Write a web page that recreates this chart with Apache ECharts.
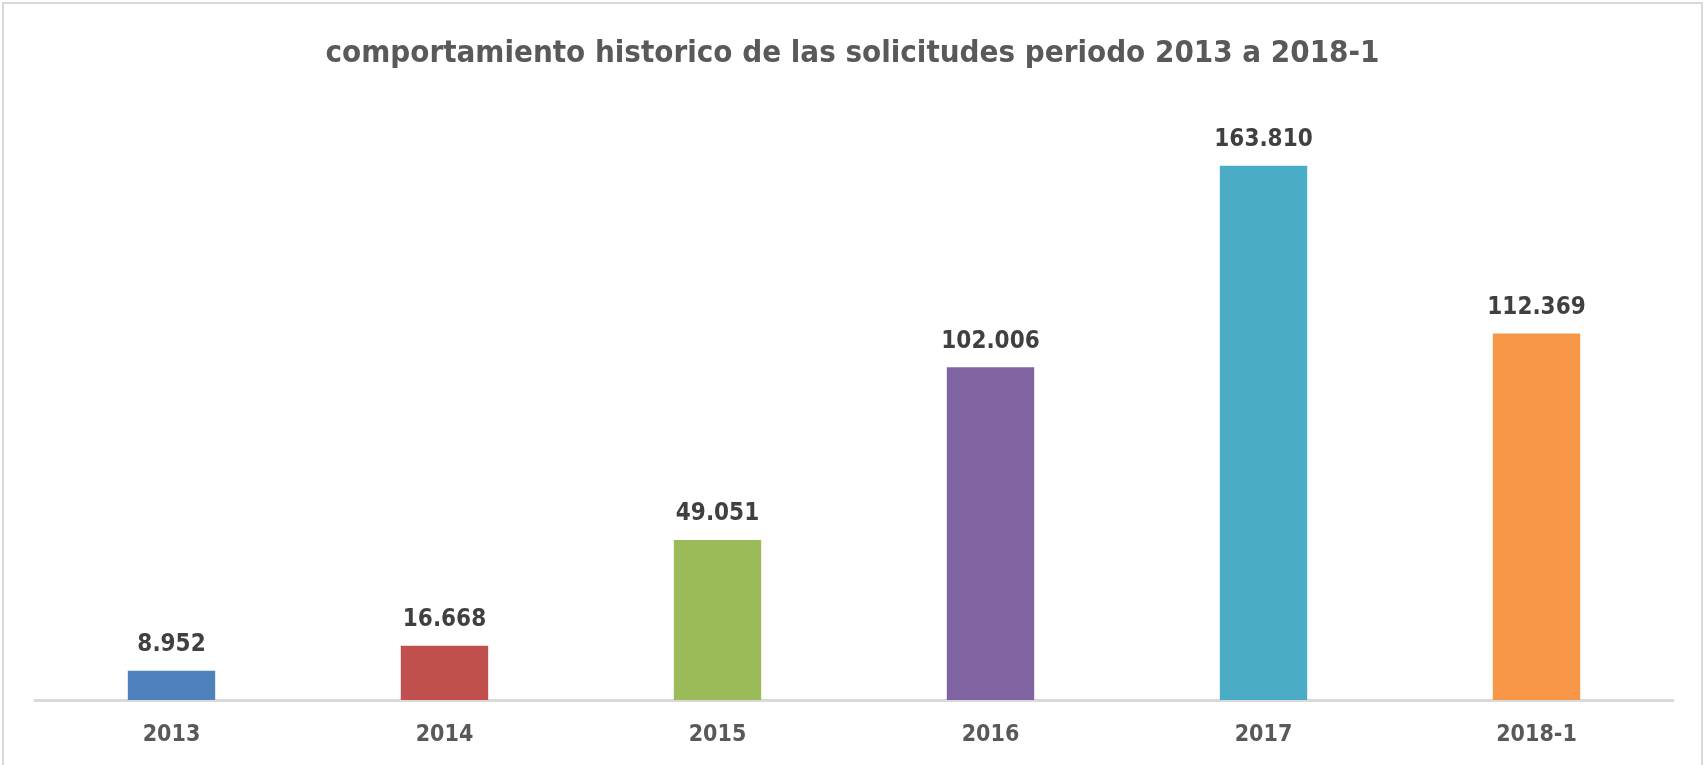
<!DOCTYPE html>
<html><head><meta charset="utf-8">
<script src="https://cdn.jsdelivr.net/npm/echarts@6/dist/echarts.min.js"></script>
<style>html,body{margin:0;padding:0;background:#fff}#c{width:1705px;height:765px}</style>
</head><body><div id="c"></div>
<script>
const categories = ['2013','2014','2015','2016','2017','2018-1'];
const values = [8952, 16668, 49051, 102006, 163810, 112369];
const barColors = ['#4f81bd','#c0504d','#9bbb59','#8064a2','#4bacc6','#f79646'];
const titleText = 'comportamiento historico de las solicitudes periodo 2013 a 2018-1';
const FONT = '"Liberation Sans Narrow","DejaVu Sans Condensed","Open Sans",sans-serif';

const chart = echarts.init(document.getElementById('c'));
chart.setOption({
  animation: false,
  backgroundColor: '#fff',
  graphic: [{type:'rect', shape:{x:3,y:3,width:1699,height:800}, style:{fill:'none',stroke:'#d9d9d9',lineWidth:2}, silent:true}],
  title: {text: titleText, left: 'center', top: 33,
    textStyle:{fontFamily: FONT, fontWeight:'bold', fontSize:31, color:'#595959'}},
  grid: {left: 35, right: 32, top: 113, bottom: 65},
  xAxis: {type:'category', data: categories,
    axisLine:{show:true, lineStyle:{color:'#d9d9d9', width:3}},
    axisTick:{show:false},
    axisLabel:{margin:24, fontFamily: FONT, fontWeight:'bold', fontSize:23, color:'#595959'}},
  yAxis: {type:'value', min:0, max:180000, show:false, splitLine:{show:false}},
  series: [{type:'bar', data: values.map((v,i)=>({value:v, itemStyle:{color:barColors[i]}})),
    barWidth: '32%', z: 1,
    label:{show:true, position:'top', distance:14, fontFamily: FONT, fontWeight:'bold', fontSize:24, color:'#404040',
      formatter: p => p.value.toLocaleString('de-DE')}}]
});
</script></body></html>
